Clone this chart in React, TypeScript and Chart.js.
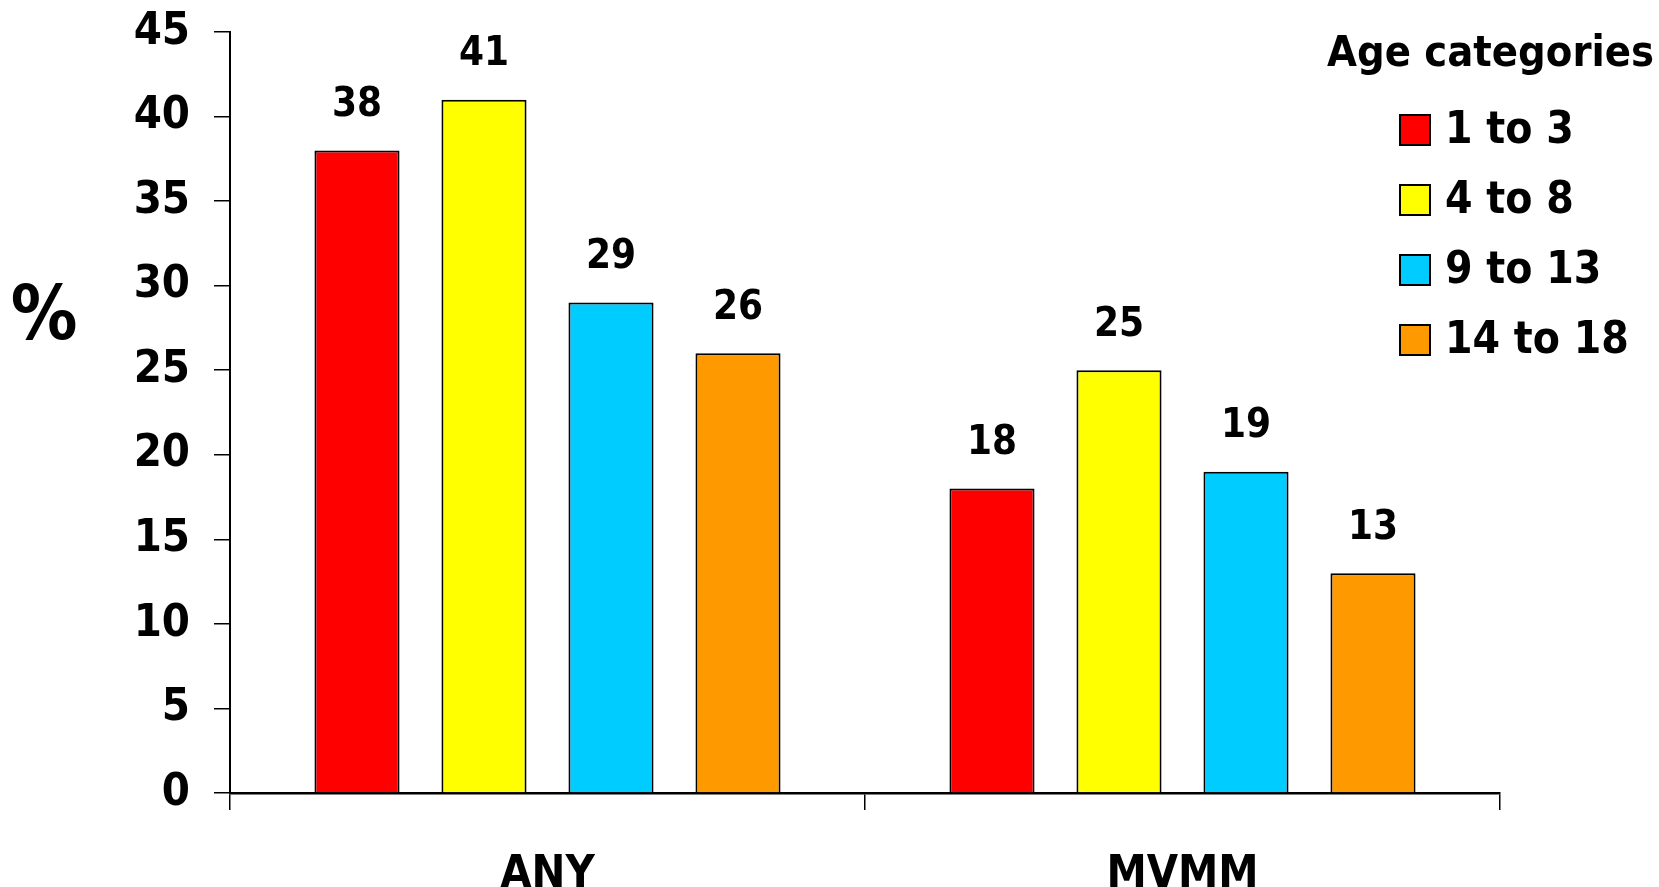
import React, { useEffect, useRef } from "react";
import { Chart, registerables } from "chart.js";

Chart.register(...registerables);

// ---- data ----
const categories = ["ANY", "MVMM"];
const ageGroups = ["1 to 3", "4 to 8", "9 to 13", "14 to 18"];
const age1to3 = [38, 18];
const age4to8 = [41, 25];
const age9to13 = [29, 19];
const age14to18 = [26, 13];
const seriesColors = ["#FF0000", "#FFFF00", "#00CCFF", "#FF9900"];
const yTickValues = [0, 5, 10, 15, 20, 25, 30, 35, 40, 45];
const legendTitle = "Age categories";
const yAxisTitle = "%";

const FONT = '"DejaVu Sans Condensed", "DejaVu Sans", sans-serif';

const valueLabelPlugin = {
  id: "valueLabels",
  afterDatasetsDraw(chart: any) {
    const ctx = chart.ctx;
    ctx.save();
    ctx.font = `bold 40px ${FONT}`;
    ctx.fillStyle = "#000";
    ctx.textAlign = "center";
    ctx.textBaseline = "middle";
    chart.data.datasets.forEach((ds: any, i: number) => {
      const meta = chart.getDatasetMeta(i);
      meta.data.forEach((bar: any, j: number) => {
        ctx.fillText(String(ds.data[j]), bar.x, bar.y - 45);
      });
    });
    ctx.restore();
  },
};

const legendPlugin = {
  id: "customLegend",
  afterDraw(chart: any) {
    const ctx = chart.ctx;
    ctx.save();
    ctx.fillStyle = "#000";
    ctx.textBaseline = "middle";
    ctx.textAlign = "left";
    ctx.font = `bold 43px ${FONT}`;
    ctx.fillText(legendTitle, 1327, 55);
    chart.data.datasets.forEach((ds: any, i: number) => {
      const cy = 130 + i * 70;
      ctx.fillStyle = ds.backgroundColor;
      ctx.fillRect(1400, cy - 15, 30, 30);
      ctx.strokeStyle = "#000";
      ctx.lineWidth = 2;
      ctx.strokeRect(1400, cy - 15, 30, 30);
      ctx.fillStyle = "#000";
      ctx.font = `bold 44px ${FONT}`;
      ctx.fillText(ds.label, 1445, cy + 2);
    });
    // y-axis title (not rotated)
    ctx.textAlign = "center";
    ctx.font = `bold 74px ${FONT}`;
    ctx.fillText(yAxisTitle, 44, 320);
    ctx.restore();
  },
};

export default function App() {
  const canvasRef = useRef<HTMLCanvasElement | null>(null);

  useEffect(() => {
    document.body.style.margin = "0";
    const canvas = canvasRef.current;
    if (!canvas) return;
    const seriesValues = [age1to3, age4to8, age9to13, age14to18];
    const tickFont = { family: FONT, size: 45, weight: "bold" as const };
    const chart = new Chart(canvas, {
      type: "bar",
      data: {
        labels: categories,
        datasets: ageGroups.map((label, i) => ({
          label,
          data: seriesValues[i],
          backgroundColor: seriesColors[i],
          borderColor: "#000",
          borderWidth: 2,
          categoryPercentage: 0.8,
          barPercentage: 0.67,
        })),
      },
      options: {
        animation: false,
        responsive: true,
        maintainAspectRatio: false,
        layout: { padding: { top: 32, right: 159, left: 0, bottom: 0 } },
        plugins: {
          legend: { display: false },
          tooltip: { enabled: false },
        },
        scales: {
          x: {
            grid: {
              display: true,
              drawOnChartArea: false,
              drawTicks: true,
              tickLength: 17,
              color: "#000",
              lineWidth: 1.5,
              offset: true,
            },
            border: { display: true, color: "#000", width: 2.5 },
            ticks: { font: tickFont, color: "#000", padding: 38 },
            afterFit: (s: any) => {
              s.height = 94;
            },
          },
          y: {
            min: 0,
            max: 45,
            afterBuildTicks: (s: any) => {
              s.ticks = yTickValues.map((v) => ({ value: v }));
            },
            ticks: {
              font: tickFont,
              color: "#000",
              padding: 24,
              callback: (v: any) => String(v),
            },
            grid: {
              display: true,
              drawOnChartArea: false,
              drawTicks: true,
              tickLength: 16,
              color: "#000",
              lineWidth: 1.5,
            },
            border: { display: true, color: "#000", width: 2 },
            afterFit: (s: any) => {
              s.width = 230;
              s.paddingTop = 30;
              s.paddingBottom = 30;
            },
          },
        },
      },
      plugins: [valueLabelPlugin, legendPlugin],
    });
    return () => chart.destroy();
  }, []);

  return (
    <div style={{ width: 1659, height: 887, position: "relative", background: "#fff" }}>
      <canvas ref={canvasRef} />
    </div>
  );
}
